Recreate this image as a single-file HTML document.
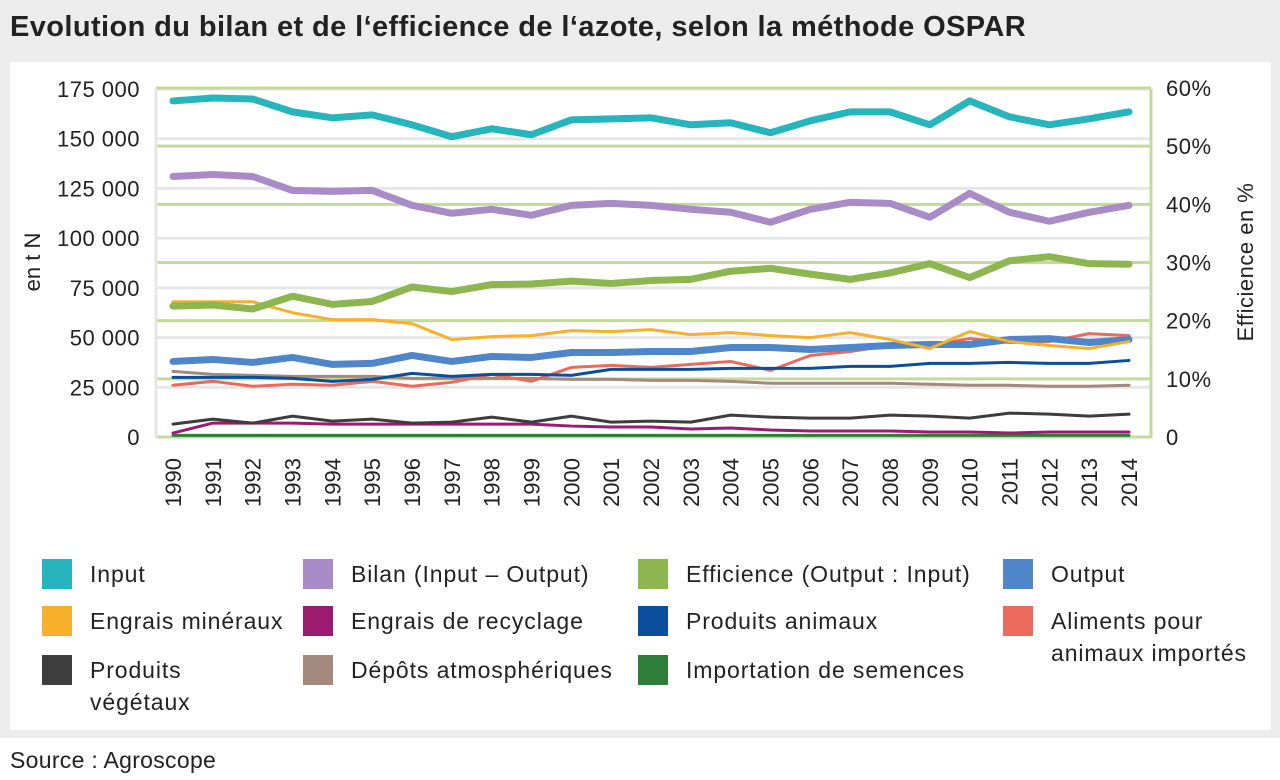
<!DOCTYPE html>
<html><head><meta charset="utf-8">
<style>
body{margin:0;width:1280px;height:780px;background:#fff;font-family:"Liberation Sans",sans-serif;overflow:hidden;position:relative}
#bg{position:absolute;left:0;top:0;width:1280px;height:738px;background:#ececec}
#title{position:absolute;left:10px;top:11px;font-size:29px;font-weight:bold;color:#222;letter-spacing:0.4px}
#panel{position:absolute;left:10px;top:62px;width:1261px;height:668px;background:#fff}
#source{position:absolute;left:10px;top:747px;font-size:23px;color:#222;letter-spacing:0.3px}
svg text{font-family:"Liberation Sans",sans-serif;fill:#222}
</style></head><body>
<div id="bg"></div>
<div id="title">Evolution du bilan et de l‘efficience de l‘azote, selon la méthode OSPAR</div>
<div id="panel"></div>
<svg id="chart" width="1280" height="780" style="position:absolute;left:0;top:0"></svg>
<div id="source">Source : Agroscope</div>
<script>
const years=[1990,1991,1992,1993,1994,1995,1996,1997,1998,1999,2000,2001,2002,2003,2004,2005,2006,2007,2008,2009,2010,2011,2012,2013,2014];
const leftTicks=[0,25000,50000,75000,100000,125000,150000,175000];
const leftTickLabels=["0","25 000","50 000","75 000","100 000","125 000","150 000","175 000"];
const rightTicks=[0,10,20,30,40,50,60];
const rightTickLabels=["0","10%","20%","30%","40%","50%","60%"];
const input=[169,170.5,170,163.5,160.5,162,157,151,155,152,159.5,160,160.5,157,158,153,159,163.5,163.5,157,169,161,157,160,163.5];
const bilan=[131,132,131,124,123.5,124,116.5,112.5,114.5,111.5,116.5,117.5,116.5,114.5,113,108,114.5,118,117.5,110.5,122.5,113,108.5,113,116.5];
const efficience=[22.5,22.7,22,24.2,22.8,23.3,25.8,25,26.2,26.3,26.8,26.4,26.9,27.1,28.5,29,28,27.1,28.2,29.8,27.4,30.3,31,29.8,29.7];
const engraisMin=[68,68,68,62.5,59,59,57,49,50.5,51,53.5,53,54,51.5,52.5,51,50,52.5,49,44.5,53,48,46,44.5,48];
const output=[38,39,37.5,40,36.5,37,41,38,40.5,40,42.5,42.5,43,43,45,45,44,45,46,46.5,46.5,49,49.5,47.5,49];
const prodAnimaux=[30,30,30,29.5,28,29,32,30.5,31.5,31.5,31,34,34,34,34.5,34.5,34.5,35.5,35.5,37,37,37.5,37,37,38.5];
const aliments=[26,28,25.5,26.5,26,28,25.5,27.5,31.5,28,35,36,35,36.5,38,33.5,41,43,46,46,49.5,47.5,48,52,51];
const depots=[33,31.5,31,30.5,30.5,30.5,29.5,29.5,29.5,29.5,29,29,28.5,28.5,28,27,27,27,27,26.5,26,26,25.5,25.5,26];
const prodVeg=[6.5,9,7,10.5,8,9,7,7.5,10,7.5,10.5,7.5,8,7.5,11,10,9.5,9.5,11,10.5,9.5,12,11.5,10.5,11.5];
const engraisRec=[2,7,7,7,6.5,6.5,6.5,6.5,6.5,6.5,5.5,5,5,4,4.5,3.5,3,3,3,2.5,2.5,2,2.5,2.5,2.5];
const semences=[0.8,0.8,0.8,0.8,0.8,0.8,0.8,0.8,0.8,0.8,0.8,0.8,0.8,0.8,0.8,0.8,0.8,0.8,0.8,0.8,0.8,0.8,0.8,0.8,0.8];

const NS="http://www.w3.org/2000/svg";
const svg=document.getElementById('chart');
const X0=156,X1=1151,Y0=437,Y1=89;
const xs=i=>173+i*(1129-173)/(years.length-1);
const yl=v=>Y0-v/175000*(Y0-Y1);
const yr=p=>Y0-p/60*(Y0-Y1+1);
function mk(t,a){const e=document.createElementNS(NS,t);for(const k in a)e.setAttribute(k,a[k]);svg.appendChild(e);return e;}

leftTicks.forEach((v,i)=>{
  const g=mk('line',{x1:X0,x2:X1,y1:yl(v),y2:yl(v),stroke:'#e6e6e6','stroke-width':3});
  
  
  const t=mk('text',{x:140,y:yl(v)+8,'text-anchor':'end','font-size':22,'letter-spacing':'0.5'});
  t.textContent=leftTickLabels[i];
  
  
});
rightTicks.forEach((v,i)=>{
  const g=mk('line',{x1:X0,x2:X1,y1:yr(v),y2:yr(v),stroke:'#c5d99c','stroke-width':3});
  
  
  const t=mk('text',{x:1166,y:yr(v)+8,'font-size':22,'letter-spacing':'0.5'});
  t.textContent=rightTickLabels[i];
  
  
});
let ax=mk('line',{x1:X0,x2:X0,y1:Y1,y2:Y0+1,stroke:'#e6e6e6','stroke-width':3});


ax=mk('line',{x1:X1,x2:X1,y1:Y1,y2:Y0+1,stroke:'#c5d99c','stroke-width':3});



years.forEach((y,i)=>{
  const t=mk('text',{x:0,y:0,'font-size':22,'text-anchor':'end',transform:`translate(${xs(i)+8},${458}) rotate(-90)`});
  t.textContent=y;
  
  
});
let at=mk('text',{x:0,y:0,'font-size':22,'text-anchor':'middle',transform:'translate(40,262) rotate(-90)'});
at.textContent='en t N';


at=mk('text',{x:0,y:0,'font-size':22,'text-anchor':'middle','letter-spacing':'0.5',transform:'translate(1253,262) rotate(-90)'});
at.textContent='Efficience en %';



function series(arr,col,w,scale,name){
  const pts=arr.map((v,i)=>xs(i)+','+(scale==='r'?yr(v):yl(v*1000))).join(' ');
  const p=mk('polyline',{points:pts,fill:'none',stroke:col,'stroke-width':w,'stroke-linejoin':'round','stroke-linecap':'round'});
  
  
}
series(semences,'#2e7d3a',3,'l','line-importation-semences');
series(engraisRec,'#9b1b6e',3,'l','line-engrais-recyclage');
series(prodVeg,'#3d3d3d',3,'l','line-produits-vegetaux');
series(depots,'#a38a7c',3,'l','line-depots-atmospheriques');
series(aliments,'#ec6a5c',3,'l','line-aliments-importes');
series(prodAnimaux,'#0b4f9c',3,'l','line-produits-animaux');
series(output,'#4f86c9',7,'l','line-output');
series(engraisMin,'#f6b02b',3,'l','line-engrais-mineraux');
series(efficience,'#8db550',7,'r','line-efficience');
series(bilan,'#a98bc7',7,'l','line-bilan');
series(input,'#27b5bd',7,'l','line-input');

const legendLabels=[["Input"],["Bilan (Input – Output)"],["Efficience (Output : Input)"],["Output"],["Engrais minéraux"],["Engrais de recyclage"],["Produits animaux"],["Aliments pour","animaux importés"],["Produits","végétaux"],["Dépôts atmosphériques"],["Importation de semences"]];
const legendColors=['#27b5bd','#a98bc7','#8db550','#4f86c9','#f6b02b','#9b1b6e','#0b4f9c','#ec6a5c','#3d3d3d','#a38a7c','#2e7d3a'];
const colX=[42,303,638,1003], rowY=[559,606,655];
legendLabels.forEach((lab,i)=>{
  const c=i%4,r=Math.floor(i/4);
  const s=mk('rect',{x:colX[c],y:rowY[r],width:30,height:30,fill:legendColors[i]});
  
  
  lab.forEach((l,j)=>{
    const t=mk('text',{x:colX[c]+48,y:rowY[r]+23+j*32,'font-size':23,'letter-spacing':'0.9'});
    t.textContent=l;
    
    
  });
});
</script>
</body></html>
